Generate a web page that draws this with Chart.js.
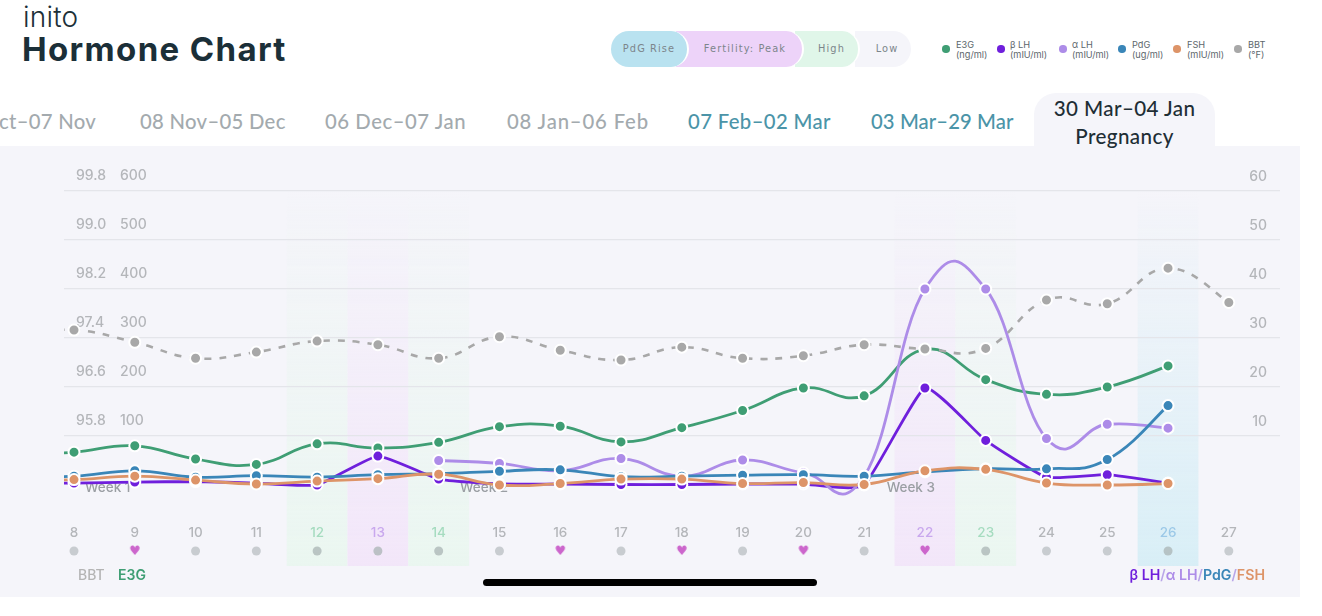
<!DOCTYPE html>
<html><head><meta charset="utf-8">
<style>
html,body{margin:0;padding:0;background:#fff;width:1322px;height:616px;overflow:hidden;font-family:Lato,sans-serif}
#panel{position:absolute;left:0;top:146px;width:1300px;height:451px;background:#f5f5fa}
canvas{position:absolute;left:0;top:0}
.abs{position:absolute;white-space:nowrap}
.tab{position:absolute;top:109px;font:500 20.3px Lato,sans-serif;color:#a3aaae;white-space:nowrap;letter-spacing:.3px;line-height:24px}
.tab.t{color:#4b94a8}
.pill{position:absolute;top:31px;height:36px;line-height:36px;text-align:center;font:500 9.8px/36px "DejaVu Sans",sans-serif;letter-spacing:1.1px;color:#7c858b}
.lg{position:absolute;top:40px;font:9.2px/10px Inter,sans-serif;color:#5d676c}
.dot{position:absolute;top:45px;width:7.5px;height:7.5px;border-radius:50%}
</style></head><body>
<div id="panel"></div>
<div class="abs" style="left:23px;top:3px;font:300 28px/28px Inter,sans-serif;color:#1c3038;letter-spacing:.2px">inito</div>
<div class="abs" style="left:22px;top:30px;font:700 33px/38px Inter,sans-serif;color:#1b2f38;letter-spacing:1.35px">Hormone Chart</div>

<div class="tab" style="left:-1px">ct–07 Nov</div>
<div class="tab" style="left:140px">08 Nov–05 Dec</div>
<div class="tab" style="left:325px;letter-spacing:.55px">06 Dec–07 Jan</div>
<div class="tab" style="left:507px;letter-spacing:.85px">08 Jan–06 Feb</div>
<div class="tab t" style="left:688px;letter-spacing:.38px">07 Feb–02 Mar</div>
<div class="tab t" style="left:871px;letter-spacing:.08px">03 Mar–29 Mar</div>
<div class="abs" style="left:1034px;top:93px;width:181px;height:53px;background:#f5f5fa;border-radius:22px 22px 0 0"></div>
<div class="abs" style="left:1034px;width:181px;top:94px;text-align:center;font:500 20.6px/28px Lato,sans-serif;color:#1e2e35;letter-spacing:.4px">30 Mar–04 Jan<br>Pregnancy</div>

<div class="pill" style="left:855px;width:56px;background:#f5f5fa;border-radius:0 18px 18px 0;padding-left:8px;box-sizing:border-box">Low</div>
<div class="pill" style="left:795px;width:65px;background:#e0f6e9;border-radius:0 18px 18px 0;border-right:2px solid #fff;padding-left:10px;box-sizing:border-box">High</div>
<div class="pill" style="left:676px;width:128px;background:#edd3f9;border-radius:0 18px 18px 0;border-right:2px solid #fff;padding-left:12px;box-sizing:border-box">Fertility: Peak</div>
<div class="pill" style="left:611px;width:78px;background:#b9e2f0;border-radius:18px;border-right:2px solid #fff;box-sizing:border-box">PdG Rise</div>

<div class="dot" style="left:942px;background:#3f9e74"></div><div class="lg" style="left:956px">E3G<br>(ng/ml)</div>
<div class="dot" style="left:997px;background:#6f1fdc"></div><div class="lg" style="left:1010px">β LH<br>(mIU/ml)</div>
<div class="dot" style="left:1059px;background:#ad8ce8"></div><div class="lg" style="left:1072px">α LH<br>(mIU/ml)</div>
<div class="dot" style="left:1118px;background:#3a86b8"></div><div class="lg" style="left:1132px">PdG<br>(ug/ml)</div>
<div class="dot" style="left:1173px;background:#dd9468"></div><div class="lg" style="left:1187px">FSH<br>(mIU/ml)</div>
<div class="dot" style="left:1234px;background:#a8a8a8"></div><div class="lg" style="left:1248px">BBT<br>(°F)</div>

<canvas id="c" width="1322" height="616"></canvas>

<div class="abs" style="left:78px;top:566px;font:500 14px/17px Inter,sans-serif;color:#b4b4b4">BBT</div>
<div class="abs" style="left:118px;top:566px;font:600 14px/17px Inter,sans-serif;color:#3f9e74">E3G</div>
<div class="abs" style="right:57px;top:566px;font:600 14.2px/17px Inter,sans-serif;color:#b9a6e8"><span style="color:#6f1fdc">β LH</span>/<span style="color:#ad8ce8">α LH</span>/<span style="color:#3a86b8">PdG</span>/<span style="color:#dd9468">FSH</span></div>
<div class="abs" style="left:483px;top:579px;width:334px;height:7px;border-radius:4px;background:#000"></div>

<script src="https://cdn.jsdelivr.net/npm/chart.js@4"></script>
<script>
const days = [7,8,9,10,11,12,13,14,15,16,17,18,19,20,21,22,23,24,25,26,27];
const e3g  = [59,67,80,53,42,84,75.5,87,119,120,88,117,152,198,182,277,215,185,200,243,null];
const betaLH = [0.4,0.4,0.6,0.7,0.4,0,5.9,1.2,0.2,0.2,0.1,0.1,0.2,0.2,0,19.8,9.1,1.6,2.1,0.4,null];
const alphaLH = [null,null,null,null,null,null,null,5.0,4.4,2.9,5.4,1.8,5.1,2.5,1.8,40,40,9.5,12.4,11.6,null];
const pdg = [1.7,1.8,2.9,1.6,1.9,1.6,2.1,2.3,2.8,3.1,1.7,1.8,2.0,2.1,1.8,2.7,3.3,3.3,5.2,16.2,null];
const fsh = [1.0,1.1,1.8,1.0,0.2,0.8,1.3,2.2,0,0.3,1.2,1.2,0.3,0.5,0.1,2.9,3.2,0.4,0,0.3,null];
const bbt = [97.45,97.53,97.33,97.07,97.17,97.35,97.29,97.07,97.42,97.20,97.04,97.25,97.07,97.11,97.29,97.22,97.23,98.02,97.96,98.54,97.98];
const xDays = [8,9,10,11,12,13,14,15,16,17,18,19,20,21,22,23,24,25,26,27];
const heartDays = [9,16,18,20,22];
const e3gTicks = [100,200,300,400,500,600];
const bbtTicks = [95.8,96.6,97.4,98.2,99.0,99.8];
const rightTicks = [10,20,30,40,50,60];
const phases = {12:'high',13:'peak',14:'high',22:'peak',23:'high',26:'rise'};
const weeks = [['Week 1',8.18],['Week 2',14.35],['Week 3',21.37]];

const phaseColor = {high:[234,246,240],peak:[242,230,249],rise:[216,238,246]};
const labelColor = {high:'#a6dcc0',peak:'#c9a8ee',rise:'#9cc9e8'};

/* layout of the plot */
const areaTop=146, areaBottom=566, zeroY=485, unit=49;
const xPx=60.78, areaLeft=64, areaRight=1280, day8=74;
const xMin=8-(day8-areaLeft)/xPx, xMax=8+(areaRight-day8)/xPx;
const stepsUp=(zeroY-areaTop)/unit, stepsDown=(areaBottom-zeroY)/unit;
const rowValue=-(551-zeroY)/unit*100;
const curveFactor=0.22;

const series=(arr)=>days.map((d,i)=>({x:d,y:arr[i]}));
const heart=(()=>{const s=14,c=document.createElement('canvas');c.width=s;c.height=s;const g=c.getContext('2d');
 g.fillStyle='#cc66cc';g.font='13px "DejaVu Sans"';g.textAlign='center';g.textBaseline='middle';g.fillText('♥',s/2,s/2+0.5);return c;})();

const line=(label,arr,color,yAxisID,order,extra)=>Object.assign({label,data:series(arr),yAxisID,order,borderColor:color,backgroundColor:color,
  borderWidth:2.8,tension:0.4,pointRadius:5.5,pointBorderColor:'#fff',pointBorderWidth:2,spanGaps:false,pointHoverRadius:5.5},extra||{});

const flat=s=>{if(s.isHorizontal())s.height=0;else s.width=0;s.paddingTop=s.paddingBottom=s.paddingLeft=s.paddingRight=0;};

/* uniform cardinal spline: the library's points, with tangents not scaled by segment length */
const uniformCurve={id:'uniformCurve',beforeDatasetsDraw(ch){
  ch.data.datasets.forEach((ds,i)=>{
    if(ds.showLine===false)return;
    const meta=ch.getDatasetMeta(i),pts=meta.dataset.points,f=ds.curve||curveFactor;
    pts.forEach((p,k)=>{
      if(p.skip)return;
      const a=pts[k-1]&&!pts[k-1].skip?pts[k-1]:p,b=pts[k+1]&&!pts[k+1].skip?pts[k+1]:p;
      const dx=(b.x-a.x)*f,dy=(b.y-a.y)*f;
      p.cp1x=p.x-dx;p.cp1y=p.y-dy;p.cp2x=p.x+dx;p.cp2y=p.y+dy;
    });
  });
}};

const bands={id:'bands',beforeDraw(ch){
  const g=ch.ctx,x=ch.scales.x,{top,bottom}=ch.chartArea;
  const start=top+44;
  Object.entries(phases).forEach(([d,p])=>{
    const l=x.getPixelForValue(+d-0.5),r=x.getPixelForValue(+d+0.5),c=phaseColor[p];
    const gr=g.createLinearGradient(0,start,0,bottom);
    gr.addColorStop(0,`rgba(${c},0)`);gr.addColorStop(0.5,`rgba(${c},.45)`);gr.addColorStop(1,`rgba(${c},1)`);
    g.fillStyle=gr;g.fillRect(l,start,r-l,bottom-start);
  });
  const y=ch.scales.yE3G;
  g.fillStyle='#9a9ea3';g.font='500 13.5px Inter';g.textBaseline='middle';g.textAlign='left';
  weeks.forEach(([t,d])=>g.fillText(t,x.getPixelForValue(d),y.getPixelForValue(-6)));
}};

new Chart(document.getElementById('c'),{
 type:'line',
 data:{datasets:[
  line('E3G',e3g,'#3f9e74','yE3G',6),
  line('β LH',betaLH,'#6f1fdc','yR',5,{curve:0.07}),
  line('α LH',alphaLH,'#ad8ce8','yR',4),
  line('PdG',pdg,'#3a86b8','yR',3),
  line('FSH',fsh,'#dd9468','yR',2),
  line('BBT',bbt,'#a8a8a8','yBBT',1,{borderDash:[7,8],borderWidth:2.6}),
  {label:'Days',data:xDays.map(d=>({x:d,y:rowValue})),yAxisID:'yE3G',order:0,showLine:false,clip:false,
   pointStyle:c=>heartDays.includes(c.raw&&c.raw.x)?heart:'circle',
   pointRadius:4.5,pointBorderWidth:0,
   pointBackgroundColor:c=>{const d=c.raw&&c.raw.x;return phases[d]?'rgba(170,180,180,.75)':'#c8ccd0';}}
 ]},
 options:{
  responsive:false,animation:false,devicePixelRatio:1,
  layout:{padding:{left:areaLeft,right:1322-areaRight,top:areaTop,bottom:616-areaBottom}},
  plugins:{legend:{display:false},tooltip:{enabled:false}},
  scales:{
   x:{type:'linear',min:xMin,max:xMax,position:'bottom',grid:{display:false},border:{display:false},afterFit:flat,
      afterBuildTicks:s=>{s.ticks=xDays.map(v=>({value:v}));},
      ticks:{mirror:true,padding:25,maxRotation:0,autoSkip:false,callback:v=>String(v),
        font:{family:'Inter',size:13.5,weight:500},
        color:c=>labelColor[phases[c.tick&&c.tick.value]]||'#b4b6ba'}},
   yE3G:{position:'left',min:-stepsDown*100,max:stepsUp*100,grid:{display:true,color:'#e4e5ea',lineWidth:1.2,drawTicks:false},border:{display:false},afterFit:flat,
      afterBuildTicks:s=>{s.ticks=e3gTicks.map(v=>({value:v}));},
      ticks:{mirror:true,padding:56,labelOffset:-15,color:'#b4b6ba',font:{family:'Inter',size:14,weight:500}}},
   yBBT:{position:'left',min:95-stepsDown*0.8,max:95+stepsUp*0.8,grid:{display:false},border:{display:false},afterFit:flat,
      afterBuildTicks:s=>{s.ticks=bbtTicks.map(v=>({value:v}));},
      ticks:{mirror:true,padding:12,labelOffset:-15,color:'#b4b6ba',callback:v=>v.toFixed(1),font:{family:'Inter',size:14,weight:500}}},
   yR:{position:'right',min:-stepsDown*10,max:stepsUp*10,grid:{display:false},border:{display:false},afterFit:flat,
      afterBuildTicks:s=>{s.ticks=rightTicks.map(v=>({value:v}));},
      ticks:{mirror:true,padding:-13,labelOffset:-14,color:'#b4b6ba',font:{family:'Inter',size:14,weight:500}}}
  }
 },
 plugins:[bands,uniformCurve]
});
</script>
</body></html>
